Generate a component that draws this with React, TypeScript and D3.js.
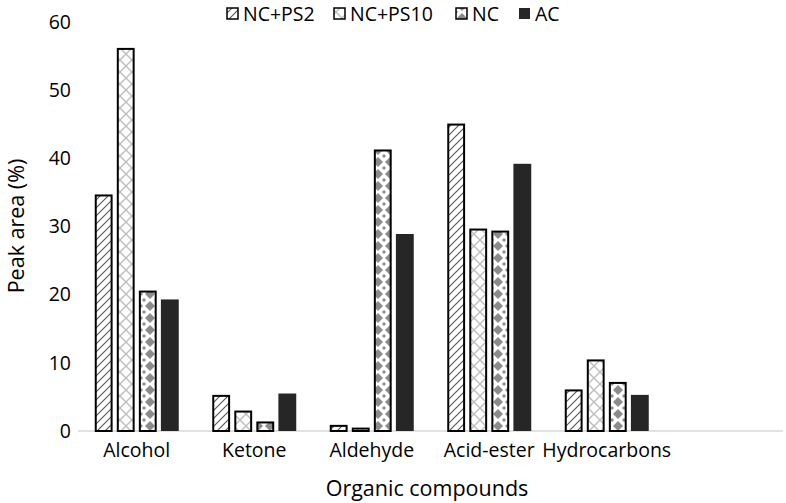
import React from "react";
import * as d3 from "d3";

const categories = ["Alcohol", "Ketone", "Aldehyde", "Acid-ester", "Hydrocarbons", ""];
const seriesNames = ["NC+PS2", "NC+PS10", "NC", "AC"];
const ncps2 = [34.7, 5.3, 0.9, 45.1, 6.1];
const ncps10 = [56.2, 3.0, 0.5, 29.7, 10.5];
const nc = [20.6, 1.4, 41.3, 29.4, 7.2];
const ac = [19.3, 5.5, 28.9, 39.2, 5.3];
const yTicks = [0, 10, 20, 30, 40, 50, 60];

const W = 786;
const H = 503;
const FONT = "'Open Sans', sans-serif";

export default function App() {
  const series = [ncps2, ncps10, nc, ac];
  const x = d3.scaleBand<string>().domain(categories.map((c, i) => String(i))).range([78, 783]).paddingInner(0).paddingOuter(0);
  const y = d3.scaleLinear().domain([0, 60]).range([431, 22]);
  const inner = d3.scaleBand<string>().domain(seriesNames).range([0, 84]).paddingInner(0.19).paddingOuter(0);
  const fills = ["url(#pPS2)", "url(#pPS10)", "url(#pNC)", "#262626"];
  const strokes = ["#000", "#000", "#000", "none"];
  const legendX = [226, 333, 455, 518];

  return (
    <svg width={W} height={H} style={{ position: "absolute", left: 0, top: 0, background: "#fff" }} fontFamily={FONT}>
      <defs>
        <pattern id="pPS2" patternUnits="userSpaceOnUse" width="8" height="8">
          <rect width="8" height="8" fill="#fff" />
          <path d="M-2,2 L2,-2 M0,8 L8,0 M6,10 L10,6" stroke="#555" strokeWidth="1.1" />
        </pattern>
        <pattern id="pPS10" patternUnits="userSpaceOnUse" width="12" height="12">
          <rect width="12" height="12" fill="#fff" />
          <path d="M0,0 L12,12 M0,12 L12,0" stroke="#bdbdbd" strokeWidth="1.4" />
        </pattern>
        <pattern id="pNC" patternUnits="userSpaceOnUse" width="12" height="12">
          <rect width="12" height="12" fill="#fff" />
          <path d="M6,1 L11,6 L6,11 L1,6 Z" fill="#8c8c8c" />
          <path d="M0,0 L2,0 L0,2 Z M12,0 L10,0 L12,2 Z M0,12 L2,12 L0,10 Z M12,12 L10,12 L12,10 Z" fill="#8c8c8c" />
        </pattern>
      </defs>

      <line x1={78} x2={783} y1={y(0)} y2={y(0)} stroke="#d9d9d9" strokeWidth={1.5} />

      {series.map((vals, si) =>
        vals.map((v, ci) => {
          const bx = (x(String(ci)) as number) + x.bandwidth() / 2 - 42 + (inner(seriesNames[si]) as number);
          const bw = inner.bandwidth();
          const top = y(v);
          const sw = si < 3 ? 2 : 0;
          return (
            <rect
              key={`${si}-${ci}`}
              x={bx + sw / 2}
              y={top + sw / 2}
              width={bw - sw}
              height={Math.max(0, y(0) - top - sw / 2)}
              fill={fills[si]}
              stroke={strokes[si]}
              strokeWidth={sw}
            />
          );
        })
      )}

      {yTicks.map((t) => (
        <text key={t} x={71} y={y(t)} dy="0.35em" textAnchor="end" fontSize={19.5} fill="#000">
          {t}
        </text>
      ))}

      {categories.map((c, i) => (
        <text key={i} x={(x(String(i)) as number) + x.bandwidth() / 2} y={457} textAnchor="middle" fontSize={19.5} fill="#000">
          {c}
        </text>
      ))}

      <text x={427} y={496} textAnchor="middle" fontSize={21.5} fill="#000">
        Organic compounds
      </text>
      <text transform={`translate(24,${226}) rotate(-90)`} textAnchor="middle" fontSize={21.5} fill="#000">
        Peak area (%)
      </text>

      {seriesNames.map((s, i) => (
        <g key={s}>
          <rect x={legendX[i] + 1} y={8} width={11} height={11} fill={fills[i]} stroke={i < 3 ? "#000" : "none"} strokeWidth={1.5} />
          <text x={legendX[i] + 17} y={14} dy="0.35em" fontSize={19.5} fill="#000">
            {s}
          </text>
        </g>
      ))}
    </svg>
  );
}
